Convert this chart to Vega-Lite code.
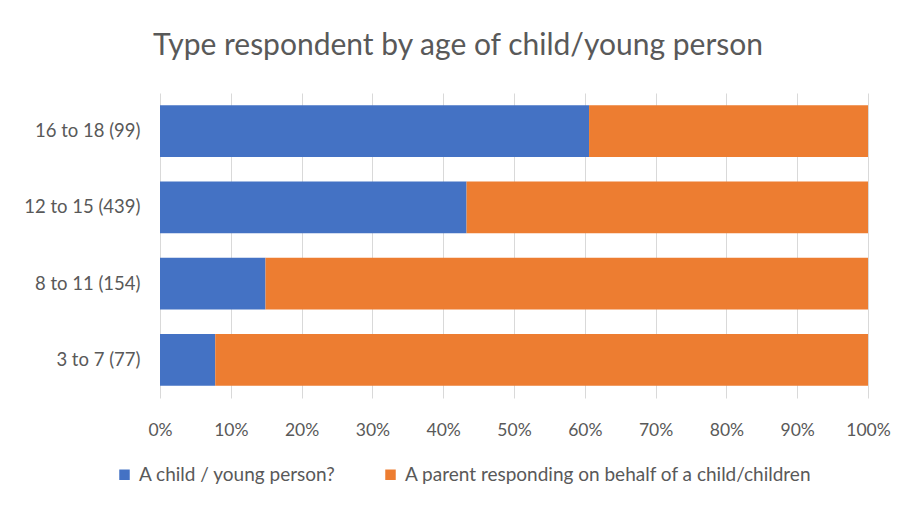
{
  "$schema": "https://vega.github.io/schema/vega-lite/v6.json",
  "autosize": "none",
  "width": 708,
  "height": 305,
  "padding": {"left": 160, "top": 93, "right": 47, "bottom": 107},
  "background": "white",
  "title": {
    "text": "Type respondent by age of child/young person",
    "anchor": "middle",
    "dx": -56,
    "offset": 32,
    "font": "Lato",
    "fontSize": 30,
    "fontWeight": "normal",
    "color": "#595959"
  },
  "data": {
    "values": [
      {"age": "16 to 18 (99)", "type": "A child / young person?", "pct": 60.6, "o": 1},
      {"age": "16 to 18 (99)", "type": "A parent responding on behalf of a child/children", "pct": 39.4, "o": 2},
      {"age": "12 to 15 (439)", "type": "A child / young person?", "pct": 43.3, "o": 1},
      {"age": "12 to 15 (439)", "type": "A parent responding on behalf of a child/children", "pct": 56.7, "o": 2},
      {"age": "8 to 11 (154)", "type": "A child / young person?", "pct": 14.9, "o": 1},
      {"age": "8 to 11 (154)", "type": "A parent responding on behalf of a child/children", "pct": 85.1, "o": 2},
      {"age": "3 to 7 (77)", "type": "A child / young person?", "pct": 7.8, "o": 1},
      {"age": "3 to 7 (77)", "type": "A parent responding on behalf of a child/children", "pct": 92.2, "o": 2}
    ]
  },
  "mark": {"type": "bar"},
  "encoding": {
    "y": {
      "field": "age",
      "type": "nominal",
      "sort": ["16 to 18 (99)", "12 to 15 (439)", "8 to 11 (154)", "3 to 7 (77)"],
      "scale": {"paddingInner": 0.32, "paddingOuter": 0.16},
      "axis": {
        "title": null,
        "domain": false,
        "ticks": false,
        "labelPadding": 20,
        "labelFont": "Lato",
        "labelFontSize": 18.5,
        "labelColor": "#595959"
      }
    },
    "x": {
      "field": "pct",
      "type": "quantitative",
      "stack": "zero",
      "scale": {"domain": [0, 100], "nice": false},
      "axis": {
        "title": null,
        "values": [0, 10, 20, 30, 40, 50, 60, 70, 80, 90, 100],
        "labelExpr": "datum.value + '%'",
        "labelFlush": false,
        "labelAlign": "center",
        "labelOverlap": false,
        "domain": false,
        "ticks": false,
        "grid": true,
        "gridColor": "#D9D9D9",
        "gridWidth": 1,
        "labelPadding": 23,
        "labelFont": "Lato",
        "labelFontSize": 17.5,
        "labelColor": "#595959"
      }
    },
    "color": {
      "field": "type",
      "type": "nominal",
      "scale": {
        "domain": ["A child / young person?", "A parent responding on behalf of a child/children"],
        "range": ["#4472C4", "#ED7D31"]
      },
      "legend": {
        "title": null,
        "orient": "none",
        "direction": "horizontal",
        "legendX": -45,
        "legendY": 372,
        "symbolType": "square",
        "symbolSize": 110,
        "symbolStrokeWidth": 0,
        "labelFont": "Lato",
        "labelFontSize": 19,
        "labelLimit": 0,
        "labelColor": "#595959",
        "labelOffset": 5,
        "columnPadding": 45
      }
    },
    "order": {"field": "o", "type": "quantitative"}
  },
  "config": {"view": {"stroke": null}}
}
